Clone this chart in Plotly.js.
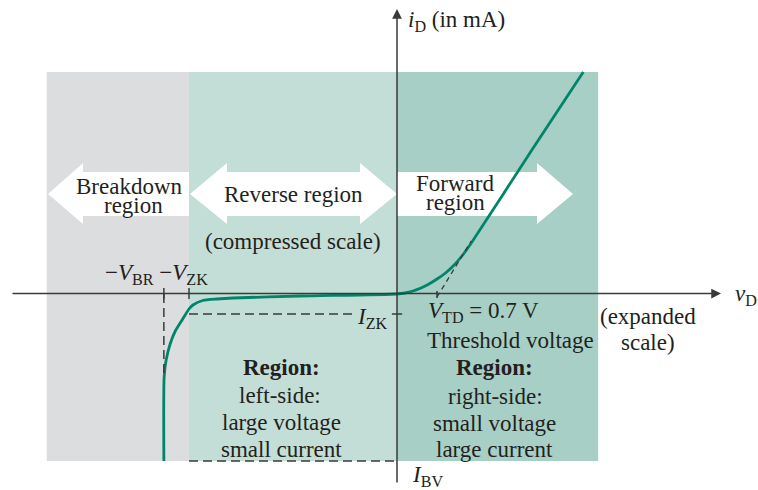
<!DOCTYPE html>
<html>
<head>
<meta charset="utf-8">
<script src="https://cdn.plot.ly/plotly-3.0.1.min.js"></script>
<style>html,body{margin:0;padding:0;background:#fff;}#chart{width:758px;height:490px;}</style>
</head>
<body>
<div id="chart"></div>
<script>
// ---- Data (schematic units: vD in V-like units, iD in mA-like units) ----
const vD_forward = [0, 0.14, 0.28, 0.42, 0.56, 0.70, 0.85, 1.00, 1.15, 1.30, 2.36, 3.26];
const iD_forward = [0, 0.1, 0.3, 0.6, 1.0, 1.5, 2.1, 2.9, 3.9, 5.1, 14.4, 22.2];
const vD_reverse = [0, -1.70, -2.87, -3.15, -3.40, -3.57, -3.64, -3.75, -3.88, -3.97, -4.04, -4.075, -4.08];
const iD_reverse = [0, -0.2, -0.4, -0.5, -0.65, -1.1, -1.5, -2.5, -3.7, -5.0, -6.6, -8.3, -16.7];

const vBR = -4.08;
const vZK = -3.64;
const iZK = -2.0;
const iBV = -16.7;
const vTD = 0.7;
const tangentEnd = [1.30, 5.3];
const regionEdges = [-6.13, -3.64, 0, 3.52];
const regionTop = 22.2;
const regionBottom = -16.7;
const regionColors = ['#dcdddf', '#c3ded6', '#a7cfc5'];

// ---- geometry helpers ----
const W = 758, H = 490;
const X0 = 397, Y0 = 294, KX = 0.0175, KY = 0.1;   // pixel -> data scale
const dx = p => (p - X0) * KX;
const dy = p => (Y0 - p) * KY;
const px = v => v / W;            // paper x from pixel
const py = v => 1 - v / H;        // paper y from pixel
const TXT = '#231f20';
const AX = '#3a3a3a';
const FONT = 'Liberation Serif, Times New Roman, serif';

// curve: reverse (from breakdown end) then forward
const xs = vD_reverse.slice().reverse().concat(vD_forward.slice(1));
const ys = iD_reverse.slice().reverse().concat(iD_forward.slice(1));

const traces = [{
  x: xs, y: ys, type: 'scatter', mode: 'lines',
  line: {color: '#00856a', width: 2.8, shape: 'spline', smoothing: 0.6},
  hoverinfo: 'skip', showlegend: false
}];

const shapes = [];
// region backgrounds
for (let i = 0; i < 3; i++) {
  shapes.push({type: 'rect', xref: 'x', yref: 'y', layer: 'below',
    x0: regionEdges[i], x1: regionEdges[i + 1], y0: regionBottom, y1: regionTop,
    fillcolor: regionColors[i], line: {width: 0}});
}
// white arrows (pixel outlines converted to data coords)
function path(pts) {
  return 'M ' + pts.map(p => dx(p[0]).toFixed(4) + ',' + dy(p[1]).toFixed(4)).join(' L ') + ' Z';
}
const arrowPaths = [
  [[48,194],[83,163],[83,172],[189,172],[189,216],[83,216],[83,224]],
  [[190,194],[227,163],[227,172],[360,172],[360,163],[397,194],[360,224],[360,216],[227,216],[227,224]],
  [[397,172],[537,172],[537,163],[573,194],[537,224],[537,216],[397,216]]
];
arrowPaths.forEach(p => shapes.push({type: 'path', xref: 'x', yref: 'y', layer: 'below',
  path: path(p), fillcolor: '#ffffff', line: {width: 0}}));

const dashStyle = {color: AX, width: 1.5, dash: '9px,5px'};
const solidStyle = {color: AX, width: 1.5};
function seg(x0, y0, x1, y1, line) {
  shapes.push({type: 'line', xref: 'x', yref: 'y', x0, y0, x1, y1, line});
}
// I_ZK dashed line and tick
seg(vZK, iZK, -0.74, iZK, dashStyle);
seg(-0.09, iZK, 0.09, iZK, solidStyle);
// I_BV dashed line
seg(vZK, iBV, 0, iBV, dashStyle);
// -V_BR vertical dashed
seg(vBR, 0, vBR, -8.3, dashStyle);
// ticks on vD axis
seg(vBR, 0.6, vBR, -0.5, solidStyle);
seg(vZK, 0.6, vZK, -0.5, solidStyle);
seg(vTD, 0.3, vTD, -0.4, solidStyle);
// tangent (threshold) dashed
seg(vTD, -0.3, tangentEnd[0], tangentEnd[1], {color: AX, width: 1.3, dash: '5px,4px'});

const annotations = [];
// axes with arrowheads
annotations.push({xref: 'paper', yref: 'paper', x: px(721), y: py(293.5), ax: -710, ay: 0,
  text: '', showarrow: true, arrowhead: 2, arrowsize: 1.3, arrowwidth: 1.5, arrowcolor: AX, standoff: 0});
annotations.push({xref: 'paper', yref: 'paper', x: px(397), y: py(9), ax: 0, ay: 475,
  text: '', showarrow: true, arrowhead: 2, arrowsize: 1.3, arrowwidth: 1.5, arrowcolor: AX, standoff: 0});

function label(text, x, y, opts) {
  annotations.push(Object.assign({xref: 'paper', yref: 'paper', x: px(x), y: py(y), text,
    showarrow: false, xanchor: 'center', yanchor: 'middle',
    font: {family: FONT, size: 23, color: TXT}}, opts || {}));
}
label('<i>i</i><sub>D</sub> (in mA)', 406, 21, {xanchor: 'left'});
label('<i>v</i><sub>D</sub>', 733, 295, {xanchor: 'left'});
label('(expanded', 648, 316);
label('scale)', 648, 342);
label('<i>V</i><sub>TD</sub> = 0.7 V', 426, 312, {xanchor: 'left'});
label('Threshold voltage', 510, 340);
label('<b>Region:</b>', 494, 367);
label('right-side:', 495, 396);
label('small voltage', 494, 423);
label('large current', 494, 449);
label('<b>Region:</b>', 281, 367);
label('left-side:', 280, 395);
label('large voltage', 281, 422);
label('small current', 281, 449);
label('<i>I</i><sub>ZK</sub>', 390, 318, {xanchor: 'right'});
label('<i>I</i><sub>BV</sub>', 410, 476, {xanchor: 'left'});
label('\u2212<i>V</i><sub>BR</sub> \u2212<i>V</i><sub>ZK</sub>', 103, 274, {xanchor: 'left'});
label('(compressed scale)', 293, 242);
label('Breakdown', 129, 186);
label('region', 133, 205);
label('Reverse region', 293, 194);
label('Forward', 455, 183);
label('region', 455, 202);

const layout = {
  width: W, height: H,
  margin: {l: 0, r: 0, t: 0, b: 0},
  paper_bgcolor: '#ffffff', plot_bgcolor: '#ffffff',
  xaxis: {range: [dx(0), dx(W)], visible: false, fixedrange: true},
  yaxis: {range: [dy(H), dy(0)], visible: false, fixedrange: true},
  shapes, annotations, showlegend: false
};
Plotly.newPlot('chart', traces, layout, {staticPlot: true, displayModeBar: false});
</script>
</body>
</html>
